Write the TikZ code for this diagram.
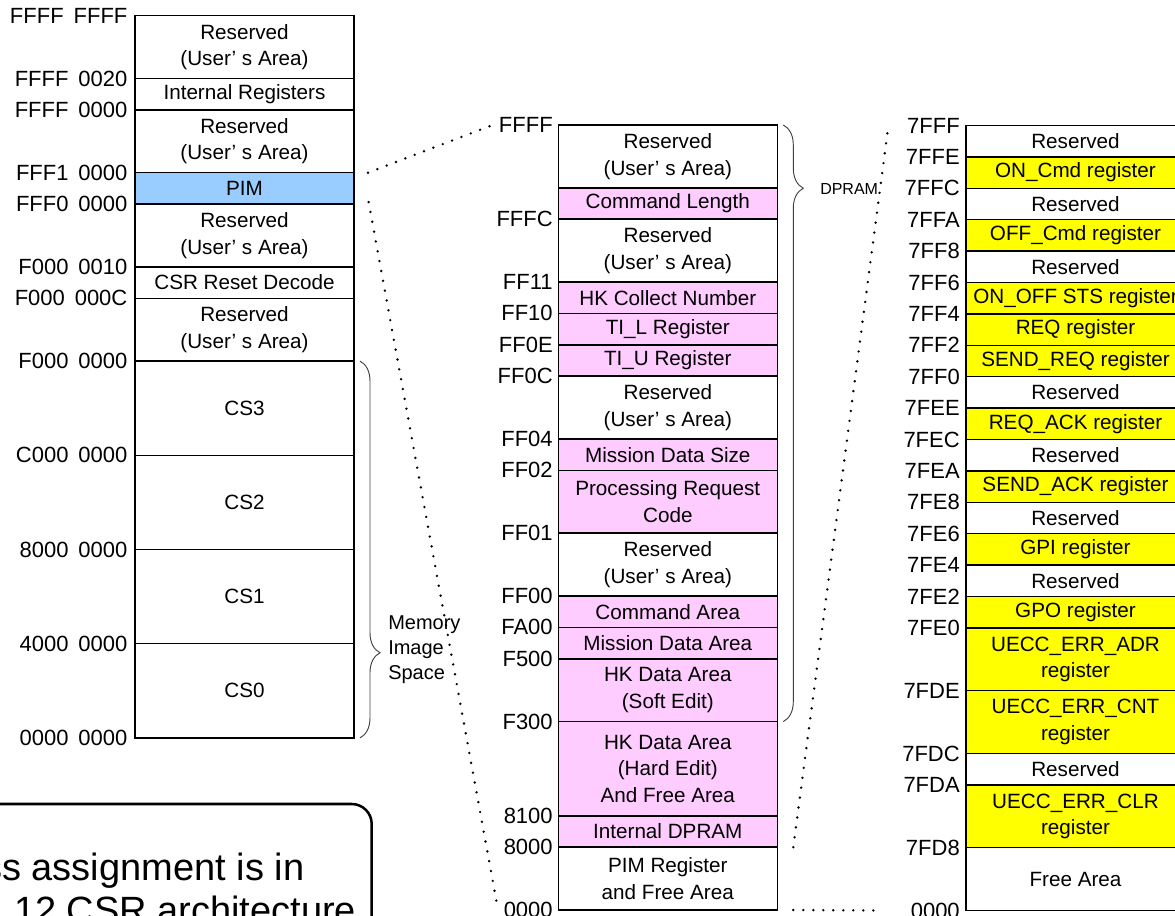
\documentclass[tikz,border=0pt]{standalone}
\usepackage{fontspec}
\setmainfont{Liberation Sans}
\usepackage{xcolor}
\usepackage{tikz}
\usetikzlibrary{positioning,decorations.pathreplacing}
\definecolor{pimblue}{RGB}{153,204,255}
\definecolor{dppink}{RGB}{255,204,255}
\definecolor{regyellow}{RGB}{255,255,0}
\newcommand{\hexpair}[2]{#1\hspace{.45em}#2}

\begin{document}
\begin{tikzpicture}[x=0.75pt, y=-0.75pt, node distance=0pt,
  cell/.style={draw, line width=1.1pt, minimum width=164.25pt, inner sep=0pt, outer sep=0pt, align=center, font=\fontsize{15.5pt}{20pt}\selectfont},
  r1/.style={cell, minimum height=23.55pt}, r2/.style={cell, minimum height=47.1pt}, r3/.style={cell, minimum height=70.65pt},
  pimfill/.style={fill=pimblue}, dp/.style={fill=dppink}, reg/.style={fill=regyellow},
  addr/.style={inner sep=0pt, font=\fontsize{16.5pt}{19pt}\selectfont},
  dots/.style={line width=2pt, line cap=round, dash pattern=on 0pt off 7.5pt},
  brc/.style={decorate, decoration={brace, amplitude=15pt, aspect=#1}, draw=black!75, line width=0.7pt},
  notetxt/.style={inner sep=0pt, font=\fontsize{28.5pt}{33pt}\selectfont}]
  \useasboundingbox (0,0) rectangle (1175,916);
  \clip (0,0) rectangle (1175,916);

  % CSR address space
  \node[r2, anchor=north west] (lres1) at (135,15.7) {Reserved\\(User' s Area)};
  \node[r1, below=of lres1] (lint) {Internal Registers};
  \node[r2, below=of lint] (lres2) {Reserved\\(User' s Area)};
  \node[r1, pimfill, below=of lres2] (pim) {PIM};
  \node[r2, below=of pim] (lres3) {Reserved\\(User' s Area)};
  \node[r1, below=of lres3] (lcsr) {CSR Reset Decode};
  \node[r2, below=of lcsr] (lres4) {Reserved\\(User' s Area)};
  \node[r3, below=of lres4] (cs3) {CS3};
  \node[r3, below=of cs3] (cs2) {CS2};
  \node[r3, below=of cs2] (cs1) {CS1};
  \node[r3, below=of cs1] (cs0) {CS0};

  % PIM space
  \node[r2, anchor=north west] (mres1) at (558.3,125) {Reserved\\(User' s Area)};
  \node[r1, dp, below=of mres1] (cmdlen) {Command Length};
  \node[r2, below=of cmdlen] (mres2) {Reserved\\(User' s Area)};
  \node[r1, dp, below=of mres2] (hkcol) {HK Collect Number};
  \node[r1, dp, below=of hkcol] (til) {TI\_L Register};
  \node[r1, dp, below=of til] (tiu) {TI\_U Register};
  \node[r2, below=of tiu] (mres3) {Reserved\\(User' s Area)};
  \node[r1, dp, below=of mres3] (msize) {Mission Data Size};
  \node[r2, dp, below=of msize] (preq) {Processing Request\\Code};
  \node[r2, below=of preq] (mres4) {Reserved\\(User' s Area)};
  \node[r1, dp, below=of mres4] (cmdarea) {Command Area};
  \node[r1, dp, below=of cmdarea] (mdata) {Mission Data Area};
  \node[r2, dp, below=of mdata] (hksoft) {HK Data Area\\(Soft Edit)};
  \node[r3, dp, below=of hksoft] (hkhard) {HK Data Area\\(Hard Edit)\\And Free Area};
  \node[r1, dp, below=of hkhard] (idpram) {Internal DPRAM};
  \node[r2, below=of idpram] (pimreg) {PIM Register\\and Free Area};

  % PIM registers
  \node[r1, anchor=north west] (rres1) at (966,125.5) {Reserved};
  \node[r1, reg, below=of rres1] (oncmd) {ON\_Cmd register};
  \node[r1, below=of oncmd] (rres2) {Reserved};
  \node[r1, reg, below=of rres2] (offcmd) {OFF\_Cmd register};
  \node[r1, below=of offcmd] (rres3) {Reserved};
  \node[r1, reg, below=of rres3] (onoff) {ON\_OFF STS register};
  \node[r1, reg, below=of onoff] (req) {REQ register};
  \node[r1, reg, below=of req] (sendreq) {SEND\_REQ register};
  \node[r1, below=of sendreq] (rres4) {Reserved};
  \node[r1, reg, below=of rres4] (reqack) {REQ\_ACK register};
  \node[r1, below=of reqack] (rres5) {Reserved};
  \node[r1, reg, below=of rres5] (sendack) {SEND\_ACK register};
  \node[r1, below=of sendack] (rres6) {Reserved};
  \node[r1, reg, below=of rres6] (gpi) {GPI register};
  \node[r1, below=of gpi] (rres7) {Reserved};
  \node[r1, reg, below=of rres7] (gpo) {GPO register};
  \node[r2, reg, below=of gpo] (uadr) {UECC\_ERR\_ADR\\register};
  \node[r2, reg, below=of uadr] (ucnt) {UECC\_ERR\_CNT\\register};
  \node[r1, below=of ucnt] (rres8) {Reserved};
  \node[r2, reg, below=of rres8] (uclr) {UECC\_ERR\_CLR\\register};
  \node[r2, below=of uclr] (free) {Free Area};

  % addresses
  \foreach \txt/\row in {{\hexpair{FFFF}{FFFF}}/lres1, {\hexpair{FFFF}{0020}}/lint, {\hexpair{FFFF}{0000}}/lres2, {\hexpair{FFF1}{0000}}/pim,
      {\hexpair{FFF0}{0000}}/lres3, {\hexpair{F000}{0010}}/lcsr, {\hexpair{F000}{000C}}/lres4, {\hexpair{F000}{0000}}/cs3,
      {\hexpair{C000}{0000}}/cs2, {\hexpair{8000}{0000}}/cs1, {\hexpair{4000}{0000}}/cs0}
    \node[addr, left=5.5pt of \row.north west] (at-\row) {\txt};
  \node[addr, left=5.5pt of cs0.south west] (at-lend) {\hexpair{0000}{0000}};
  \foreach \txt/\row in {FFFF/mres1, FFFC/mres2, FF11/hkcol, FF10/til, FF0E/tiu, FF0C/mres3, FF04/msize, FF02/preq,
      FF01/mres4, FF00/cmdarea, FA00/mdata, F500/hksoft, F300/hkhard, 8100/idpram, 8000/pimreg}
    \node[addr, left=4pt of \row.north west] (at-\row) {\txt};
  \node[addr, left=4pt of pimreg.south west] (at-mend) {0000};
  \foreach \txt/\row in {7FFF/rres1, 7FFE/oncmd, 7FFC/rres2, 7FFA/offcmd, 7FF8/rres3, 7FF6/onoff, 7FF4/req, 7FF2/sendreq,
      7FF0/rres4, 7FEE/reqack, 7FEC/rres5, 7FEA/sendack, 7FE8/rres6, 7FE6/gpi, 7FE4/rres7, 7FE2/gpo, 7FE0/uadr,
      7FDE/ucnt, 7FDC/rres8, 7FDA/uclr, 7FD8/free}
    \node[addr, left=4.5pt of \row.north west] (at-\row) {\txt};
  \node[addr, left=4.5pt of free.south west] (at-rend) {0000};

  % braces
  \draw[brc=0.774] ([xshift=4.5pt]cs3.north east) -- ([xshift=4.5pt]cs0.south east);
  \node[anchor=west, align=left, inner sep=0pt, font=\fontsize{15pt}{18.75pt}\selectfont] (mis) at (388,650) {Memory\\Image\\Space};
  \draw[brc=0.106] ([xshift=4.5pt]mres1.north east) -- ([xshift=4.5pt]hksoft.south east);
  \node[anchor=west, inner sep=0pt, font=\fontsize{12pt}{14pt}\selectfont] (dpram) at (820,188.5) {DPRAM};

  % zoom lines
  \draw[dots] ([xshift=10.5pt]pim.north east) -- ([xshift=-4.5pt]at-mres1.west);
  \draw[dots] ([xshift=11pt,yshift=1.5pt]pim.south east) -- ([xshift=-5pt,yshift=5pt]at-mend.west);
  \draw[dots] ([xshift=12pt]idpram.south east) -- ([xshift=-14pt,yshift=-1pt]at-rres1.west);
  \draw[dots] ([xshift=12pt]pimreg.south east) -- ([xshift=-22pt]at-rend.west);

  % note
  \node[draw, line width=1.9pt, rounded corners=15pt, minimum width=450pt, minimum height=150pt, inner sep=0pt, outer sep=0pt, anchor=north east] (note) at (371.7,804) {};
  \node[notetxt, anchor=base east] (notel1) at (304.5,880) {ss assignment is in};
  \node[notetxt, anchor=base east] (notel2) at (367,923.5) {12 CSR architecture.};
\end{tikzpicture}
\end{document}
